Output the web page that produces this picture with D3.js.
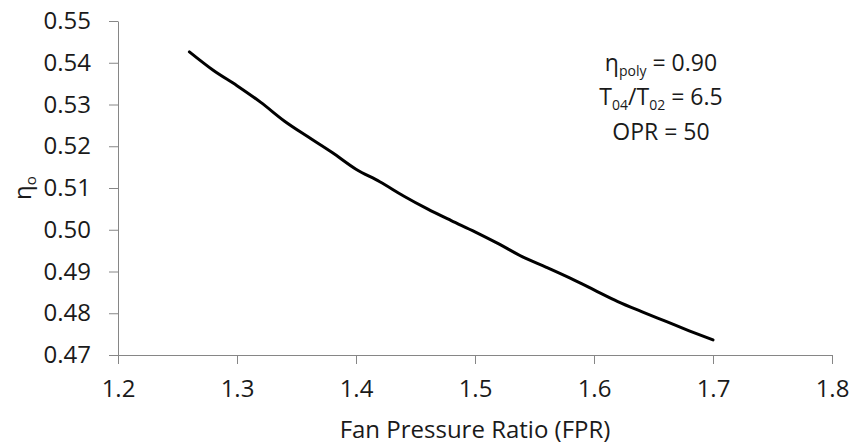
<!DOCTYPE html>
<html>
<head>
<style>
  body {
    margin: 0;
    background-color: #ffffff;
  }

  .chart text {
    font-family: "Open Sans", sans-serif;
    fill: #1a1a1a;
  }

  .tick-label {
    font-size: 24px;
  }
</style>
  <script src="https://d3js.org/d3.v7.min.js"></script>
</head>
<body>
<script>
// fan pressure ratio vs overall efficiency
const fpr = [1.26, 1.28, 1.30, 1.32, 1.34, 1.36, 1.38, 1.40, 1.42, 1.44, 1.46, 1.48,
  1.50, 1.52, 1.54, 1.56, 1.58, 1.60, 1.62, 1.64, 1.66, 1.68, 1.70];
const etaO = [0.5426, 0.5382, 0.5345, 0.5305, 0.5260, 0.5222, 0.5185, 0.5145, 0.5115,
  0.5081, 0.5050, 0.5022, 0.4995, 0.4966, 0.4935, 0.4910, 0.4884, 0.4856, 0.4828,
  0.4804, 0.4781, 0.4758, 0.4736];

const xTicks = [1.2, 1.3, 1.4, 1.5, 1.6, 1.7, 1.8];
const yTicks = [0.47, 0.48, 0.49, 0.50, 0.51, 0.52, 0.53, 0.54, 0.55];

const width = 852;
const height = 446;
const axisColor = '#868686';
const fs = 24;
const noteFs = 23;
const subFs = 14;

const svg = d3.select('body')
  .append('svg')
  .attr('class', 'chart')
  .attr('width', width)
  .attr('height', height);

const x = d3.scaleLinear().domain([1.2, 1.8]).range([118, 832]);
const y = d3.scaleLinear().domain([0.47, 0.55]).range([355, 21]);

// axes, only left and bottom like the excel chart
const xAxis = svg.append('g')
  .attr('transform', `translate(0,${y(0.47)})`)
  .call(d3.axisBottom(x).tickValues(xTicks).tickFormat(d3.format('.1f'))
    .tickSizeInner(9).tickSizeOuter(0).tickPadding(16));

const yAxis = svg.append('g')
  .attr('transform', `translate(${x(1.2)},0)`)
  .call(d3.axisLeft(y).tickValues(yTicks).tickFormat(d3.format('.2f'))
    .tickSizeInner(9).tickSizeOuter(0).tickPadding(18));

[xAxis, yAxis].forEach(a => {
  a.selectAll('path, line').attr('stroke', axisColor).attr('stroke-width', 1);
  a.selectAll('text').attr('class', 'tick-label').attr('font-family', null).attr('font-size', null);
});

// curve
const line = d3.line()
  .x((d, i) => x(fpr[i]))
  .y(d => y(d))
  .curve(d3.curveMonotoneX);

svg.append('path')
  .datum(etaO)
  .attr('fill', 'none')
  .attr('stroke', '#000')
  .attr('stroke-width', 3)
  .attr('stroke-linecap', 'round')
  .attr('d', line);

// axis titles
svg.append('text')
  .attr('x', (x(1.2) + x(1.8)) / 2)
  .attr('y', 438)
  .attr('text-anchor', 'middle')
  .attr('font-size', fs)
  .text('Fan Pressure Ratio (FPR)');

const yTitle = svg.append('text')
  .attr('transform', `translate(31,${(y(0.47) + y(0.55)) / 2}) rotate(-90)`)
  .attr('text-anchor', 'middle')
  .attr('font-size', fs);
yTitle.append('tspan').text('η');
yTitle.append('tspan').attr('font-size', subFs + 1).attr('dy', 5).text('o');

// annotation box
const noteX = 661;
const note1 = svg.append('text').attr('x', noteX).attr('y', 71)
  .attr('text-anchor', 'middle').attr('font-size', noteFs);
note1.append('tspan').text('η');
note1.append('tspan').attr('font-size', subFs).attr('dy', 5).text('poly');
note1.append('tspan').attr('dy', -5).text(' = 0.90');

const note2 = svg.append('text').attr('x', noteX).attr('y', 105)
  .attr('text-anchor', 'middle').attr('font-size', noteFs);
note2.append('tspan').text('T');
note2.append('tspan').attr('font-size', subFs).attr('dy', 5).text('04');
note2.append('tspan').attr('dy', -5).text('/T');
note2.append('tspan').attr('font-size', subFs).attr('dy', 5).text('02');
note2.append('tspan').attr('dy', -5).text(' = 6.5');

svg.append('text').attr('x', noteX).attr('y', 140)
  .attr('text-anchor', 'middle').attr('font-size', noteFs)
  .text('OPR = 50');
</script>
</body>
</html>
